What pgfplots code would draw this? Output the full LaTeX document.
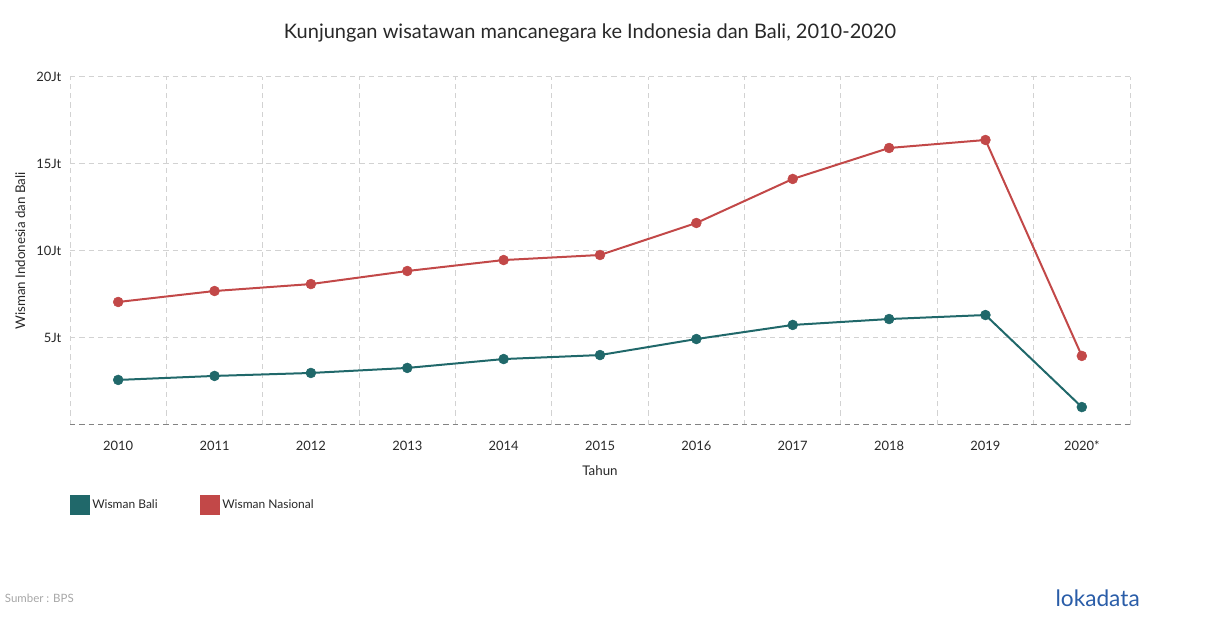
\documentclass[border=0pt]{standalone}
\usepackage{pgfplots}
\pgfplotsset{compat=1.18}
\usepackage{fontspec}
\setmainfont{Lato}

\definecolor{bali}{RGB}{32,104,106}
\definecolor{nasional}{RGB}{194,72,72}
\definecolor{gridgrey}{RGB}{210,210,210}
\definecolor{axisgrey}{RGB}{130,130,130}
\definecolor{txt}{RGB}{40,40,40}
\definecolor{logoblue}{RGB}{42,93,168}

\begin{document}
\begin{tikzpicture}
\path[use as bounding box] (0,0) rectangle (907.5pt,471pt);
\begin{axis}[
  at={(52.5pt,152.25pt)}, anchor=south west,
  scale only axis, width=795pt, height=261pt,
  xmin=-0.5, xmax=10.5, ymin=0, ymax=20,
  axis line style={draw=none},
  xtick={0,...,10},
  xticklabels={2010,2011,2012,2013,2014,2015,2016,2017,2018,2019,2020*},
  minor xtick={-0.5,0.5,...,10.5},
  xminorgrids,
  ytick={5,10,15,20},
  yticklabels={5Jt,10Jt,15Jt,20Jt},
  ymajorgrids,
  major tick length=0pt, minor tick length=0pt,
  grid style={gridgrey, dashed, line width=0.75pt, dash pattern=on 4pt off 3pt},
  minor grid style={gridgrey, dashed, line width=0.75pt, dash pattern=on 4pt off 3pt},
  tick label style={font=\fontsize{9.7}{11}\selectfont, text=txt},
  xticklabel style={yshift=-8.5pt},
  yticklabel style={xshift=-3pt},
  /pgf/number format/assume math mode=true,
  xlabel={Tahun},
  xlabel style={at={(axis description cs:0.5,-0.132)}, anchor=center, font=\fontsize{10}{12}\selectfont, text=txt},
  ylabel={Wisman Indonesia dan Bali},
  ylabel style={at={(axis description cs:-0.047,0.5)}, anchor=center, rotate=0, font=\fontsize{10}{12}\selectfont, text=txt},
  legend columns=2,
  legend style={at={(axis description cs:0,-0.23)}, anchor=west, draw=none, fill=none, inner sep=0pt,
    font=\fontsize{9}{10}\selectfont, text=txt,
    /tikz/every even column/.append style={column sep=30pt}},
  legend image code/.code={\fill[#1] (0pt,-6.5pt) rectangle (13pt,6.5pt);},
  clip=false,
]
\draw[axisgrey, line width=0.75pt, dash pattern=on 4pt off 3pt] (axis cs:-0.5,0) -- (axis cs:10.5,0);
\addplot[bali, line width=1.5pt, mark=*, mark size=3.7pt, mark options={fill=bali, draw=bali, line width=0.4pt}]
  coordinates {(0,2.59) (1,2.82) (2,2.99) (3,3.28) (4,3.79) (5,4.02) (6,4.94) (7,5.75) (8,6.09) (9,6.32) (10,1.03)};
\addlegendentry{Wisman Bali}
\addplot[nasional, line width=1.5pt, mark=*, mark size=3.7pt, mark options={fill=nasional, draw=nasional, line width=0.4pt}]
  coordinates {(0,7.07) (1,7.70) (2,8.10) (3,8.85) (4,9.48) (5,9.77) (6,11.61) (7,14.14) (8,15.92) (9,16.38) (10,3.97)};
\addlegendentry{Wisman Nasional}
\end{axis}
\node[text=txt, font=\fontsize{15}{18}\selectfont] at (442.5pt,446.25pt) {Kunjungan wisatawan mancanegara ke Indonesia dan Bali, 2010-2020};
\node[anchor=west, text=gray!70, font=\fontsize{8.6}{10}\selectfont, inner sep=0pt] at (3.5pt,22.5pt) {Sumber : BPS};
\node[anchor=east, text=logoblue, font=\fontsize{17}{20}\selectfont, inner sep=0pt] at (855pt,22pt) {lokadata};
\end{tikzpicture}
\end{document}
